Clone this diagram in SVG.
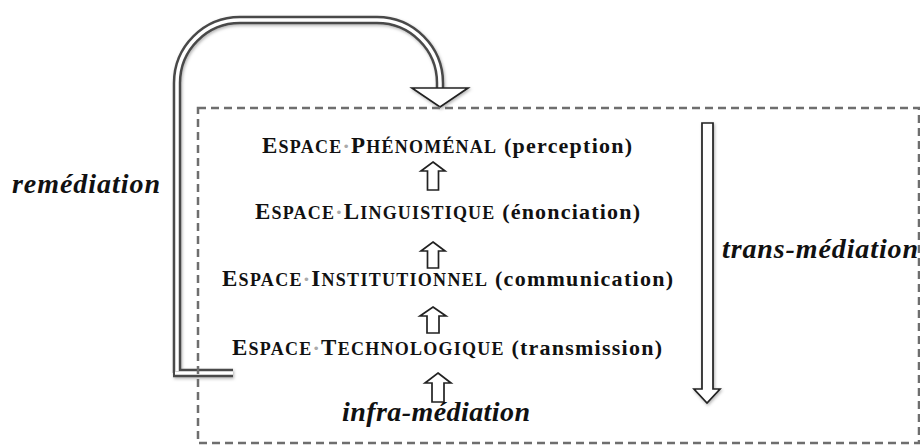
<svg xmlns="http://www.w3.org/2000/svg" width="920" height="445" viewBox="0 0 920 445">
  <defs>
    <filter id="sh" x="-20%" y="-20%" width="140%" height="140%">
      <feDropShadow dx="1" dy="1.5" stdDeviation="1.5" flood-color="#000" flood-opacity="0.3"/>
    </filter>
    <style>
      .sc { font-family: "Liberation Serif", "Times New Roman", serif; font-weight: bold; fill: #111; font-size: 22px; }
      .big { font-size: 23px; }
      .small { font-size: 18px; }
      .dot { fill: #aaa; font-size: 22px; }
      .it { font-family: "Liberation Serif", "Times New Roman", serif; font-weight: bold; font-style: italic; fill: #111; font-size: 28px; }
      .tubeOut { fill: none; stroke: #4a4a4a; stroke-width: 8.5; }
      .tubeIn { fill: none; stroke: #ffffff; stroke-width: 3.5; }
      .hollow { fill: #ffffff; stroke: #222; stroke-width: 1.7; stroke-linejoin: miter; }
      .frame { fill: none; stroke: #6e6e6e; stroke-width: 2.5; stroke-dasharray: 8 5; }
    </style>
  </defs>
  <rect width="920" height="445" fill="#ffffff"/>

  <g id="connectors">
    <g id="remediation-arrow" filter="url(#sh)">
      <path class="tubeOut" d="M177,373 L177,83 A63,63 0 0 1 240,20 L377,20 A63,63 0 0 1 440,83 L440,89"/>
      <path class="tubeOut" d="M173,373 L233,373"/>
      <path class="tubeIn" d="M177,371 L177,83 A63,63 0 0 1 240,20 L377,20 A63,63 0 0 1 440,83 L440,90"/>
      <path class="tubeIn" d="M175,373 L233,373"/>
      <polygon class="hollow" points="412,88 468,88 440,107"/>
    </g>
    <polygon id="trans-arrow" class="hollow" filter="url(#sh)" points="702,123 713,123 713,389 720,389 707,403 694,389 702,389"/>
    <polygon class="hollow" points="433,162 445,171 438.5,171 438.5,190 427.5,190 427.5,171 421,171"/>
    <polygon class="hollow" points="433,242 445,251 438.5,251 438.5,268 427.5,268 427.5,251 421,251"/>
    <polygon class="hollow" points="433,307 446,316 439,316 439,333 427,333 427,316 420,316"/>
    <polygon class="hollow" points="438,373 451,383 444,383 444,402 432,402 432,383 425,383"/>
  </g>

  <rect class="frame" x="198" y="108" width="721" height="335"/>

  <g id="node-phenomenal">
    <text class="sc" x="262" y="153" textLength="370" lengthAdjust="spacing"><tspan class="big">E</tspan><tspan class="small">SPACE</tspan><tspan class="dot">·</tspan><tspan class="big">P</tspan><tspan class="small">HÉNOMÉNAL</tspan><tspan> (perception)</tspan></text>
  </g>
  <g id="node-linguistique">
    <text class="sc" x="255" y="219" textLength="385" lengthAdjust="spacing"><tspan class="big">E</tspan><tspan class="small">SPACE</tspan><tspan class="dot">·</tspan><tspan class="big">L</tspan><tspan class="small">INGUISTIQUE</tspan><tspan> (énonciation)</tspan></text>
  </g>
  <g id="node-institutionnel">
    <text class="sc" x="222" y="286" textLength="451" lengthAdjust="spacing"><tspan class="big">E</tspan><tspan class="small">SPACE</tspan><tspan class="dot">·</tspan><tspan class="big">I</tspan><tspan class="small">NSTITUTIONNEL</tspan><tspan> (communication)</tspan></text>
  </g>
  <g id="node-technologique">
    <text class="sc" x="232" y="355" textLength="430" lengthAdjust="spacing"><tspan class="big">E</tspan><tspan class="small">SPACE</tspan><tspan class="dot">·</tspan><tspan class="big">T</tspan><tspan class="small">ECHNOLOGIQUE</tspan><tspan> (transmission)</tspan></text>
  </g>
  <g id="node-infra">
    <text class="it" x="342" y="421" textLength="188" lengthAdjust="spacing">infra-médiation</text>
  </g>
  <g id="label-remediation">
    <text class="it" x="12" y="193" textLength="148" lengthAdjust="spacing">remédiation</text>
  </g>
  <g id="label-trans">
    <text class="it" x="722" y="258" textLength="196" lengthAdjust="spacing">trans-médiation</text>
  </g>
</svg>
